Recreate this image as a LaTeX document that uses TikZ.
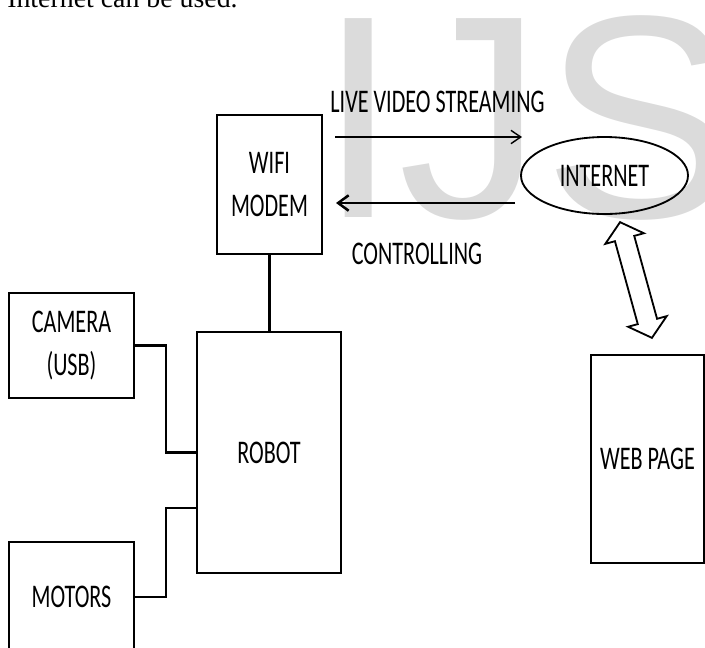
\documentclass[tikz,border=0pt]{standalone}
\usepackage{fontspec}
\usepackage{tikz}
\usetikzlibrary{calc,arrows.meta,shapes.geometric}
\setmainfont{Carlito}
\newfontfamily\labelfont[FakeStretch=0.67]{Carlito}
\newfontfamily\markfont{Liberation Sans}
\newfontfamily\bodyfont{Liberation Serif}
\definecolor{markgray}{gray}{0.86}
\def\px{0.025cm}
\tikzset{
    blockbox/.style={draw, line width=1.5pt, inner sep=0pt, align=center,
      font=\labelfont\fontsize{23.5}{30.5}\selectfont},
    arrowtext/.style={inner sep=0pt, anchor=base, font=\labelfont\fontsize{23.5}{30.5}\selectfont},
    wire/.style={line width=1.5pt},
    stream/.style={line width=1pt, -{Straight Barb[length=7pt,width=9.5pt]}},
    command/.style={line width=1.8pt, -{Straight Barb[length=7.5pt,width=11pt]}},
  }

\begin{document}
\begin{tikzpicture}[x=\px, y=-\px]
				  %frame: 705 x 647 units, y grows downwards
				  \useasboundingbox (0,0) rectangle (705,647);
				  \clip (0,0) rectangle (705,647);

				  %watermark and the line of text above
				  \node[anchor=base west, inner sep=0pt, text=markgray] (mark) at (318,217)
				       {\markfont\fontsize{205.6}{205.6}\selectfont IJS};
				  \node[anchor=base west, inner sep=0pt] (body) at (7,7)
				       {\bodyfont\fontsize{19.8}{24}\selectfont Internet can be used.};

				  %blocks
				  \node[blockbox, minimum width=105*\px, minimum height=139*\px] (modem) at (269.5,184.5) {WIFI\\MODEM};
				  \node[blockbox, minimum width=144*\px, minimum height=241*\px] (robot) at (269,452.5) {ROBOT};
				  \node[blockbox, minimum width=125*\px, minimum height=105*\px] (camera) at (71.5,345.5) {CAMERA\\(USB)};
				  \node[blockbox, minimum width=125*\px, minimum height=110*\px] (motors) at (71.5,597) {MOTORS};
				  \node[blockbox, minimum width=113*\px, minimum height=208*\px] (web) at (647.5,459) {WEB PAGE};
				  \node[blockbox, ellipse, line width=1.3pt, minimum width=167*\px, minimum height=77*\px] (internet) at (604.5,175.5) {INTERNET};

				  %wiring
				  \draw[wire] (modem.south) -- (modem.south |- robot.north);
				  \draw[wire] (camera.east) -- ++(31,0) |- (robot.west);
				  \draw[wire] (motors.east) -- ++(31,0) |- ($(robot.west)+(0,55.5)$);

				  %data flow between modem and internet
				  \coordinate(S1) at (335,137);
				  \coordinate(S2) at (522,137);
				  \draw[stream] (S1) -- (S2);
				  \node[arrowtext] (streamtext) at (437.5,112) {LIVE VIDEO STREAMING};

				  \coordinate(C1) at (515,203);
				  \coordinate(C2) at (336,203);
				  \draw[command] (C1) -- (C2);
				  \node[arrowtext] (controltext) at (417,264) {CONTROLLING};

				  %hollow double arrow internet <-> web page
				  \coordinate(IA) at (620,222);
				  \coordinate(IB) at (652,338);
				  \begin{scope}[shift={($(IA)!0.5!(IB)$)}, rotate=-74.6]
				  \draw[line width=1.3pt, line join=miter] (-60,0) -- (-43,20) -- (-43,10) -- (43,10) -- (43,20)
				       -- (60,0) -- (43,-20) -- (43,-10) -- (-43,-10) -- (-43,-20) -- cycle;
				  \end{scope}
\end{tikzpicture}
\end{document}
